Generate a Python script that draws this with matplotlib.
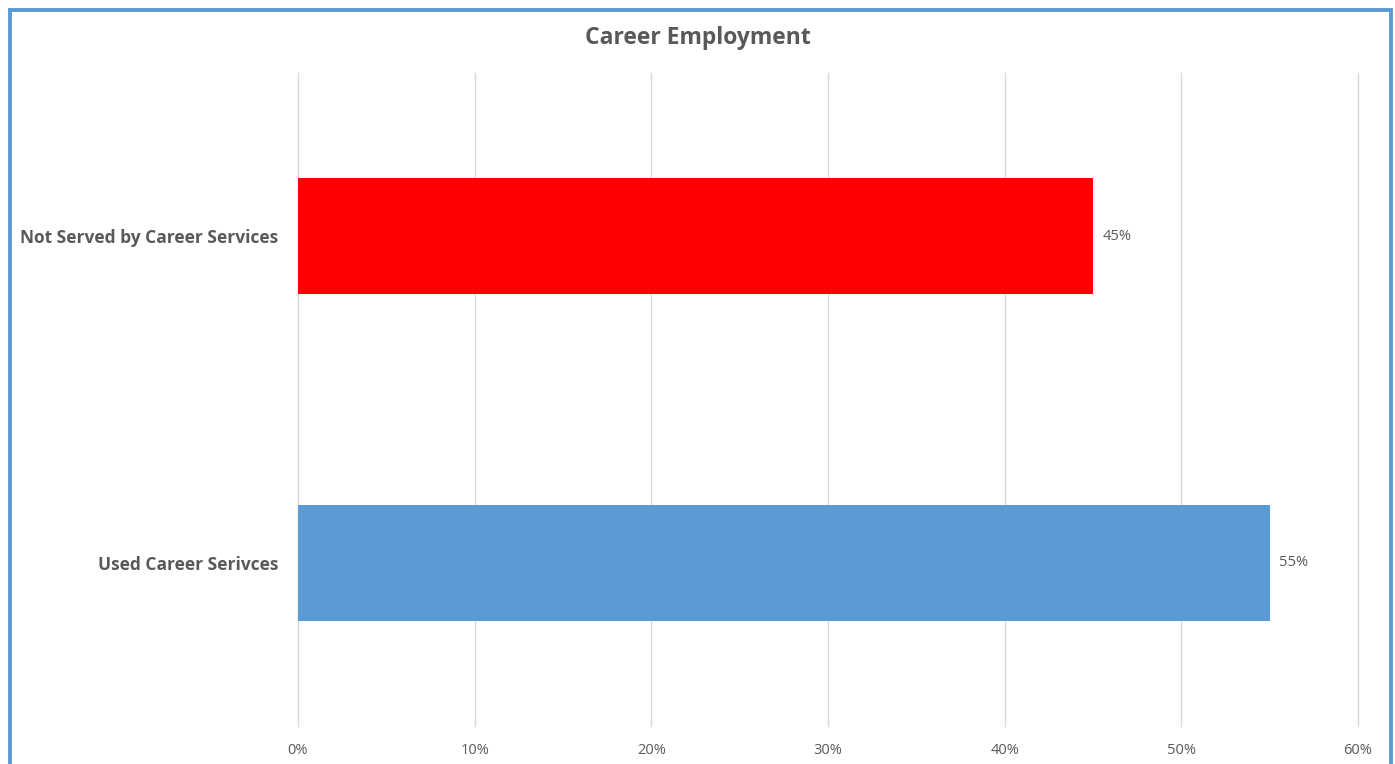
import matplotlib.pyplot as plt
from matplotlib.patches import Rectangle

# Data
categories = ["Used Career Serivces", "Not Served by Career Services"]
values = [55, 45]
colors = ["#5B9BD5", "#FF0000"]
tick_values = [0, 10, 20, 30, 40, 50, 60]
tick_labels = ["0%", "10%", "20%", "30%", "40%", "50%", "60%"]

plt.rcParams["font.family"] = ["Open Sans", "DejaVu Sans"]
text_color = "#595959"

fig = plt.figure(figsize=(13.95, 7.64), dpi=100)
ax = fig.add_axes([298 / 1395, 1 - 726 / 764, 1060 / 1395, 653 / 764])

bars = ax.barh(range(len(categories)), values, height=0.355, color=colors, zorder=3)

# Data labels
for i, v in enumerate(values):
    ax.annotate(f"{v}%", (v, i), xytext=(7, 0), textcoords="offset points",
                va="center", ha="left", fontsize=10.5, color=text_color)

ax.set_xlim(0, 60)
ax.set_ylim(-0.5, 1.5)
ax.set_xticks(tick_values)
ax.set_xticklabels(tick_labels, fontsize=10.5, color=text_color)
ax.set_yticks(range(len(categories)))
ax.set_yticklabels(categories, fontsize=12.5, fontweight="bold", color=text_color)
ax.tick_params(axis="x", length=0, pad=12)
ax.tick_params(axis="y", length=0, pad=14)

ax.grid(axis="x", color="#D9D9D9", linewidth=1, zorder=0)
for g in ax.xaxis.get_gridlines():
    g.set_clip_on(False)
for s in ax.spines.values():
    s.set_visible(False)

fig.text(0.5, 1 - 38 / 764, "Career Employment", ha="center", va="center",
         fontsize=16.5, fontweight="bold", color=text_color)

# Chart border (bottom edge runs off the picture)
fig.patches.append(Rectangle((9.5 / 1395, -0.05), 1381.5 / 1395, 1.05 - 9.5 / 764,
                             transform=fig.transFigure, fill=False,
                             edgecolor="#5B9BD5", linewidth=2.8))

plt.savefig("out.png", dpi=100)
